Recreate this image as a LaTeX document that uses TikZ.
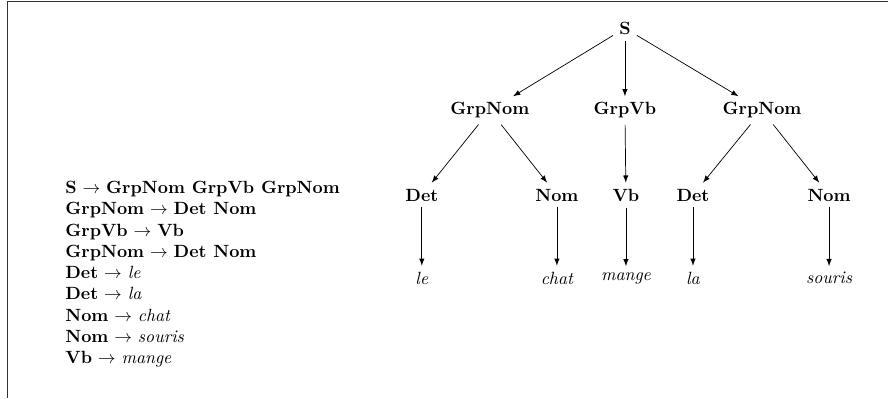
\documentclass[tikz,border=0pt]{standalone}
\usepackage{tikz}
\usetikzlibrary{arrows}

\begin{document}
\begin{tikzpicture}[cat/.style={font=\bfseries}, mot/.style={font=\itshape}, fl/.style={->,>=latex}]
    \useasboundingbox (0,0) rectangle (17.62,7.9);
    \draw[line width=0.6pt, black!80] (0.14,0) --(0.14,7.87) --(17.62,7.87);

    \node[anchor=north west, inner sep=0pt, align=left] (regles) at (1.29,4.31) {%
        \textbf{S} $\rightarrow$ \textbf{GrpNom GrpVb GrpNom}\\
        \textbf{GrpNom} $\rightarrow$ \textbf{Det Nom}\\
        \textbf{GrpVb} $\rightarrow$ \textbf{Vb}\\
        \textbf{GrpNom} $\rightarrow$ \textbf{Det Nom}\\
        \textbf{Det} $\rightarrow$ \textit{le}\\
        \textbf{Det} $\rightarrow$ \textit{la}\\
        \textbf{Nom} $\rightarrow$ \textit{chat}\\
        \textbf{Nom} $\rightarrow$ \textit{souris}\\
        \textbf{Vb} $\rightarrow$ \textit{mange}};

    \node[cat] (s) at (12.40,7.34) {S};
    \node[cat] (gn1) at (9.72,5.71) {GrpNom};
    \node[cat] (gv) at (12.40,5.71) {GrpVb};
    \node[cat] (gn2) at (15.12,5.71) {GrpNom};
    \node[cat] (det1) at (8.37,4.03) {Det};
    \node[cat] (nom1) at (11.05,4.03) {Nom};
    \node[cat] (vb) at (12.42,4.03) {Vb};
    \node[cat] (det2) at (13.75,4.03) {Det};
    \node[cat] (nom2) at (16.45,4.03) {Nom};
    \node[mot] (le) at (8.37,2.38) {le};
    \node[mot] (chat) at (11.05,2.38) {chat};
    \node[mot] (mange) at (12.42,2.38) {mange};
    \node[mot] (la) at (13.75,2.38) {la};
    \node[mot] (souris) at (16.45,2.38) {souris};

    \draw[fl] (s) --(gn1);
    \draw[fl] (s) --(gv);
    \draw[fl] (s) --(gn2);
    \draw[fl] (gn1) --(det1);
    \draw[fl] (gn1) --(nom1);
    \draw[fl] (gv) --(vb);
    \draw[fl] (gn2) --(det2);
    \draw[fl] (gn2) --(nom2);
    \draw[fl] (det1) --(le);
    \draw[fl] (nom1) --(chat);
    \draw[fl] (vb) --(mange);
    \draw[fl] (det2) --(la);
    \draw[fl] (nom2) --(souris);
\end{tikzpicture}
\end{document}
